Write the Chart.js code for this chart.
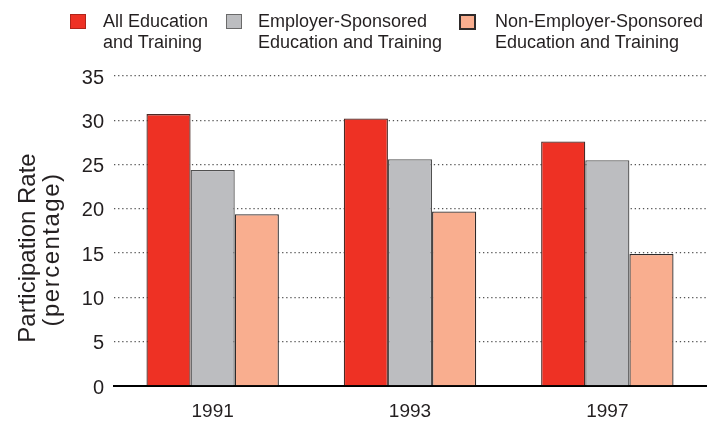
<!DOCTYPE html>
<html>
<head>
<meta charset="utf-8">
<script src="https://cdn.jsdelivr.net/npm/chart.js@4/dist/chart.umd.min.js"></script>
<style>
  html, body { margin: 0; padding: 0; background: #fff; }
  #wrap { position: relative; width: 727px; height: 421px; }
  #c { position: absolute; left: 0; top: 0; }
  .lg-box { position: absolute; width: 14px; height: 13px; }
  .lg-txt { position: absolute; font-family: "Liberation Sans", Arial, sans-serif; font-size: 18px; line-height: 21px; color: #231f20; white-space: nowrap; }
</style>
</head>
<body>
<div id="wrap">
  <canvas id="c" width="727" height="421"></canvas>
</div>
<script>
const categories = ['1991', '1993', '1997'];
const allEducation = [30.7, 30.2, 27.6];
const employerSponsored = [24.4, 25.6, 25.5];
const nonEmployerSponsored = [19.4, 19.7, 14.9];
const seriesLabels = [
  ['All Education', 'and Training'],
  ['Employer-Sponsored', 'Education and Training'],
  ['Non-Employer-Sponsored', 'Education and Training']
];
const yTicks = [0, 5, 10, 15, 20, 25, 30, 35];
const yTitle = ['Participation Rate', '(percentage)'];

const fills = ['#EE3124', '#BCBDC0', '#F9AE8F'];
const borders = ['#4a2a26', '#505050', '#2e2a2a'];
const FONT = '"Liberation Sans", Arial, sans-serif';
const TXT = '#231f20';

// HTML legend
const legendPos = [
  { box: 70, txt: 103 },
  { box: 226, txt: 258 },
  { box: 459, txt: 495 }
];
const wrap = document.getElementById('wrap');
seriesLabels.forEach((lab, i) => {
  const b = document.createElement('div');
  b.className = 'lg-box';
  b.style.left = legendPos[i].box + 'px';
  b.style.top = '14px';
  b.style.background = fills[i];
  b.style.border = (i === 2 ? '2px solid #2e2a2a' : '1px solid ' + (i === 0 ? '#b0241a' : '#6a6a6a'));
  if (i === 2) { b.style.width = '13px'; b.style.height = '12px'; }
  wrap.appendChild(b);
  const t = document.createElement('div');
  t.className = 'lg-txt';
  t.style.left = legendPos[i].txt + 'px';
  t.style.top = '11px';
  t.innerHTML = lab.join('<br>');
  wrap.appendChild(t);
});

const yTitlePlugin = {
  id: 'yTitlePlugin',
  afterDraw(chart) {
    const ctx = chart.ctx;
    ctx.save();
    ctx.fillStyle = TXT;
    ctx.font = '24px ' + FONT;
    ctx.textAlign = 'center';
    ctx.textBaseline = 'alphabetic';
    const xs = [35, 59];
    const ys = [248, 249.5];
    const spacing = ['0px', '1.5px'];
    yTitle.forEach((s, i) => {
      ctx.save();
      ctx.translate(xs[i], ys[i]);
      ctx.rotate(-Math.PI / 2);
      if ('letterSpacing' in ctx) ctx.letterSpacing = spacing[i];
      ctx.fillText(s, 0, 0);
      ctx.restore();
    });
    ctx.restore();
  }
};

new Chart(document.getElementById('c'), {
  type: 'bar',
  data: {
    labels: categories,
    datasets: [allEducation, employerSponsored, nonEmployerSponsored].map((d, i) => ({
      label: seriesLabels[i].join(' '),
      data: d,
      backgroundColor: fills[i],
      borderColor: borders[i],
      borderWidth: 1.3,
      borderSkipped: 'bottom',
      barPercentage: 1.0,
      categoryPercentage: 0.671
    }))
  },
  options: {
    responsive: false,
    animation: false,
    devicePixelRatio: 1,
    layout: { padding: { left: 0, right: 21, top: 76, bottom: 0 } },
    plugins: { legend: { display: false }, tooltip: { enabled: false } },
    scales: {
      x: {
        grid: { display: false, drawTicks: false },
        border: { display: true, color: '#000', width: 2 },
        ticks: { color: TXT, font: { family: FONT, size: 19 }, padding: 14 },
        afterFit(s) { s.height = 35; }
      },
      y: {
        min: 0, max: 35,
        afterBuildTicks(s) { s.ticks = yTicks.map(v => ({ value: v })); },
        grid: {
          drawTicks: false,
          color: c => (c.tick && c.tick.value === 0) ? 'rgba(0,0,0,0)' : '#555',
          lineWidth: 1.3
        },
        border: { display: false, dash: [1.3, 2.8] },
        ticks: { color: TXT, font: { family: FONT, size: 20 }, padding: 10, labelOffset: 2 },
        afterFit(s) { s.width = 114; }
      }
    }
  },
  plugins: [yTitlePlugin]
});
</script>
</body>
</html>
